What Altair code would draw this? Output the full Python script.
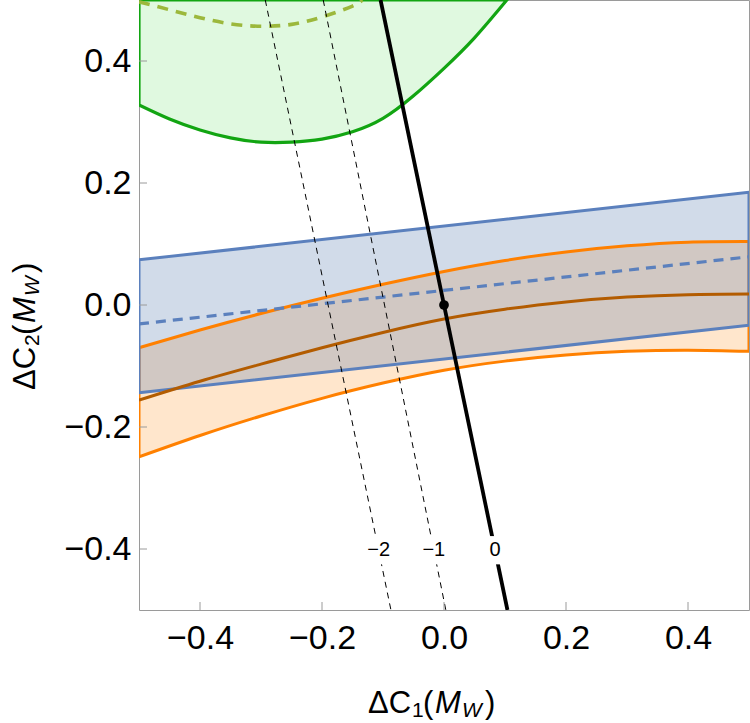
import altair as alt
import pandas as pd

# ---- orange band (lower / central / upper curves) ----
band_x = [-0.5, -0.4, -0.3, -0.2, -0.1, 0.0, 0.1, 0.2, 0.3, 0.4, 0.5]
orange_hi = [-0.070, -0.041, -0.014, 0.011, 0.034, 0.055, 0.073, 0.087, 0.097, 0.103, 0.104]
orange_lo = [-0.249, -0.214, -0.182, -0.153, -0.128, -0.107, -0.092, -0.082, -0.076, -0.074, -0.076]
orange_mid = [-0.156, -0.125, -0.097, -0.070, -0.045, -0.023, -0.007, 0.005, 0.013, 0.017, 0.018]

# ---- blue band (straight edges and dashed centre) ----
blue_x = [-0.5, 0.5]
blue_hi = [0.074, 0.185]
blue_lo = [-0.144, -0.033]
blue_mid = [-0.031, 0.079]

# ---- green region (bounded above by the frame) ----
green_x = [-0.5, -0.45, -0.4, -0.35, -0.3, -0.25, -0.2, -0.15, -0.1, -0.05, 0.0, 0.05, 0.103]
green_lo = [0.328, 0.305, 0.287, 0.274, 0.267, 0.267, 0.272, 0.284, 0.306, 0.343, 0.388, 0.438, 0.5]
green_top = 0.5
green_dash_x = [-0.5, -0.45, -0.4, -0.35, -0.3, -0.25, -0.2, -0.15, -0.134]
green_dash_y = [0.497, 0.484, 0.471, 0.461, 0.457, 0.460, 0.472, 0.490, 0.5]

# ---- contour lines of constant level ----
levels = [-2, -1, 0]
level_x_top = [-0.293, -0.198, -0.104]
level_x_bottom = [-0.087, 0.003, 0.104]
edge_y = [0.5, -0.5]
label_y = -0.402

# ---- reference point and ticks ----
dot_x = [0.0]
dot_y = [0.0]
tick_values = [-0.4, -0.2, 0.0, 0.2, 0.4]

FONT = "Liberation Sans"
ORANGE = "#ff8000"
BROWN = "#b35c00"
BLUE = "#5b80bd"
BLUE_FILL = "#4f72ab"
GREEN = "#12a512"
GREEN_FILL = "#e0f9e0"
OLIVE = "#9cb83c"
FRAME = "#9a9a9a"

SIZE = 610

orange_df = pd.DataFrame({"x": band_x, "lo": orange_lo, "hi": orange_hi, "mid": orange_mid})
blue_df = pd.DataFrame({"x": blue_x, "lo": blue_lo, "hi": blue_hi, "mid": blue_mid})
green_df = pd.DataFrame({"x": green_x, "lo": green_lo, "hi": [green_top] * len(green_x)})
green_dash_df = pd.DataFrame({"x": green_dash_x, "y": green_dash_y})

rows = []
for lev, xt, xb in zip(levels, level_x_top, level_x_bottom):
    for yy, xx in zip(edge_y, [xt, xb]):
        rows.append({"level": lev, "x": xx, "y": yy})
contour_df = pd.DataFrame(rows)

labels = []
for lev, xt, xb in zip(levels, level_x_top, level_x_bottom):
    t = (edge_y[0] - label_y) / (edge_y[0] - edge_y[1])
    labels.append({"x": xt + t * (xb - xt), "y": label_y,
                   "text": str(lev).replace("-", "\u2212")})
label_df = pd.DataFrame(labels)

dot_df = pd.DataFrame({"x": dot_x, "y": dot_y})
tick_df = pd.DataFrame({"v": tick_values})

xscale = alt.Scale(domain=[-0.5, 0.5], nice=False, zero=False)
yscale = alt.Scale(domain=[-0.5, 0.5], nice=False, zero=False)
xaxis = alt.Axis(values=tick_values, format=".1f", title=None, grid=False,
                 ticks=False, tickSize=0, domain=False, labelPadding=11)
yaxis = alt.Axis(values=tick_values, format=".1f", title=None, grid=False,
                 ticks=False, tickSize=0, domain=False, labelPadding=8)


def X(field):
    return alt.X(f"{field}:Q", scale=xscale, axis=xaxis)


def Y(field):
    return alt.Y(f"{field}:Q", scale=yscale, axis=yaxis)


# filled regions
green_fill = alt.Chart(green_df).mark_area(
    fill=GREEN_FILL, interpolate="natural", clip=True
).encode(x=X("x"), y=Y("lo"), y2="hi")
orange_fill = alt.Chart(orange_df).mark_area(
    fill=ORANGE, fillOpacity=0.2, interpolate="natural", clip=True
).encode(x=X("x"), y=Y("lo"), y2="hi")
blue_fill = alt.Chart(blue_df).mark_area(
    fill=BLUE_FILL, fillOpacity=0.26, clip=True
).encode(x=X("x"), y=Y("lo"), y2="hi")

# region outlines
green_edge = alt.Chart(green_df).mark_area(
    fillOpacity=0, stroke=GREEN, strokeWidth=3.2, interpolate="natural", clip=True
).encode(x=X("x"), y=Y("lo"), y2="hi")
orange_edge = alt.Chart(orange_df).mark_area(
    fillOpacity=0, stroke=ORANGE, strokeWidth=3, interpolate="natural", clip=True
).encode(x=X("x"), y=Y("lo"), y2="hi")
blue_edge = alt.Chart(blue_df).mark_area(
    fillOpacity=0, stroke=BLUE, strokeWidth=3, clip=True
).encode(x=X("x"), y=Y("lo"), y2="hi")

orange_center = alt.Chart(orange_df).mark_line(
    color=BROWN, strokeWidth=3, interpolate="natural", clip=True
).encode(x=X("x"), y=Y("mid"))
blue_center = alt.Chart(blue_df).mark_line(
    color=BLUE, strokeWidth=3.2, strokeDash=[10, 7], clip=True
).encode(x=X("x"), y=Y("mid"))
green_center = alt.Chart(green_dash_df).mark_line(
    color=OLIVE, strokeWidth=3.6, strokeDash=[11, 8], interpolate="natural", clip=True
).encode(x=X("x"), y=Y("y"))

# contour lines
dashed_levels = alt.Chart(contour_df).transform_filter("datum.level < 0").mark_line(
    color="black", strokeWidth=1, strokeDash=[6, 5], clip=True
).encode(x=X("x"), y=Y("y"), detail="level:N")
zero_level = alt.Chart(contour_df).transform_filter("datum.level == 0").mark_line(
    color="black", strokeWidth=3.8, clip=True
).encode(x=X("x"), y=Y("y"))

label_bg = alt.Chart(label_df).mark_point(
    shape="square", filled=True, fill="white", opacity=1, size=800, strokeWidth=0
).encode(x=X("x"), y=Y("y"))
label_text = alt.Chart(label_df).mark_text(
    font=FONT, fontSize=20, color="black", align="center", baseline="middle"
).encode(x=X("x"), y=Y("y"), text="text:N")

dot = alt.Chart(dot_df).mark_point(
    filled=True, color="black", size=95, opacity=1
).encode(x=X("x"), y=Y("y"))

# inward frame ticks
x_ticks = alt.Chart(tick_df).mark_rule(color=FRAME, strokeWidth=1).encode(
    x=X("v"), y=alt.value(SIZE), y2=alt.value(SIZE - 8))
y_ticks = alt.Chart(tick_df).mark_rule(color=FRAME, strokeWidth=1).encode(
    y=Y("v"), x=alt.value(0), x2=alt.value(8))

# axis titles built from pieces so subscripts and the italic M_W can be set
one = alt.Data(values=[{}])


def piece(text, px, py, size=31, italic=False, angle=0):
    kw = dict(text=text, font=FONT, fontSize=size, color="black",
              align="left", baseline="alphabetic")
    if italic:
        kw["fontStyle"] = "italic"
    if angle:
        kw["angle"] = angle
    return alt.Chart(one).mark_text(**kw).encode(x=alt.value(px), y=alt.value(py))


x_title = [
    piece("\u0394C", 229, 713),
    piece("1", 273, 717, size=21),
    piece("(", 284, 713),
    piece("M", 296, 713, italic=True),
    piece("W", 323, 717, size=21, italic=True),
    piece(")", 346, 713),
]
y_title = [
    piece("\u0394C", -104, 390, angle=270),
    piece("2", -100, 346, size=21, angle=270),
    piece("(", -104, 335, angle=270),
    piece("M", -104, 323, italic=True, angle=270),
    piece("W", -100, 296, size=21, italic=True, angle=270),
    piece(")", -104, 273, angle=270),
]

chart = alt.layer(
    green_fill, orange_fill, blue_fill,
    green_edge, orange_edge, blue_edge,
    orange_center, blue_center, green_center,
    dashed_levels, zero_level, label_bg, label_text, dot,
    x_ticks, y_ticks, *x_title, *y_title,
).properties(
    width=SIZE, height=SIZE,
    padding={"left": 139, "top": 0, "right": 1, "bottom": 113},
    autosize=alt.AutoSizeParams(type="none"),
).configure_view(
    stroke=FRAME, strokeWidth=1
).configure_axis(
    labelFont=FONT, labelFontSize=34, labelColor="black"
)

chart.save("out.html", embed_options={"renderer": "svg", "actions": False})
